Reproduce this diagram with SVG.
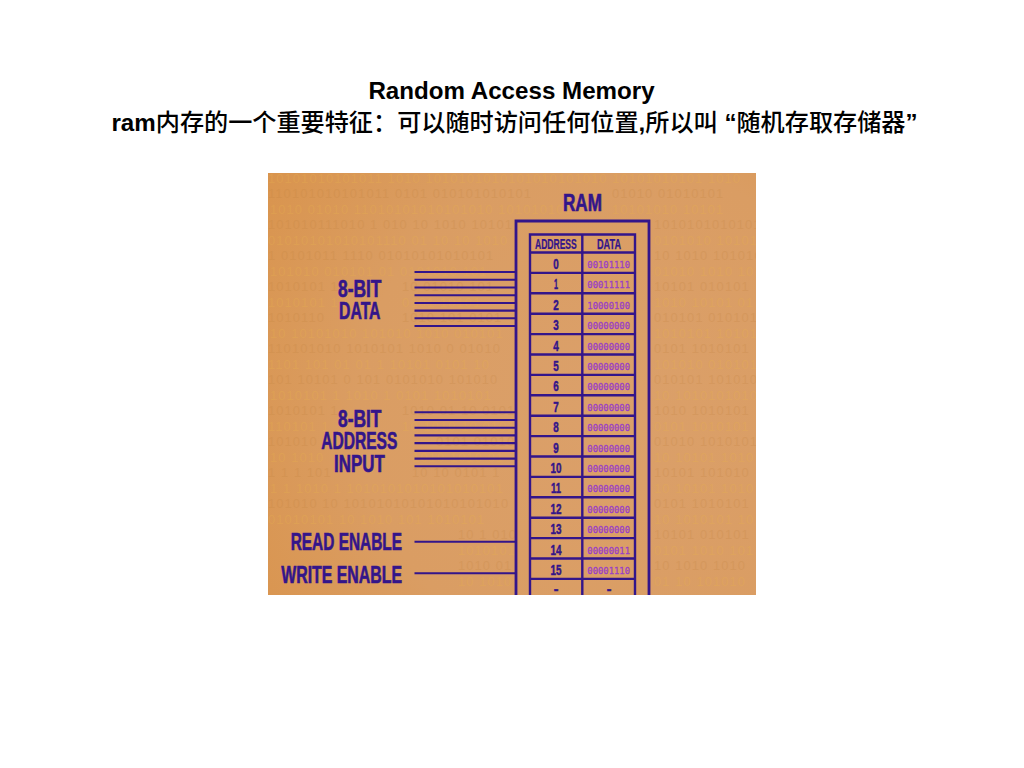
<svg xmlns="http://www.w3.org/2000/svg" width="1024" height="768" viewBox="0 0 1024 768">
<style>
.t{font-family:"Liberation Sans","Noto Sans CJK SC",sans-serif;font-weight:700;fill:#000;font-size:24.15px}
.z{font-family:"Noto Sans CJK SC","Liberation Sans",sans-serif;font-weight:500}
.b{font-family:"Liberation Sans",sans-serif;font-size:13px;letter-spacing:1.05px;fill:#e8b050;opacity:.3}
.b2{fill:#c2833f;opacity:.22}
.l{font-family:"Liberation Sans",sans-serif;font-weight:700;fill:#33158a;stroke:#33158a;stroke-width:.6}
.m{font-size:23px}
.h{font-size:14px;stroke-width:.25}
.n{font-size:14px;text-anchor:middle;stroke-width:.45}
.d{font-family:"DejaVu Sans Mono",monospace;font-size:8.9px;fill:#9a40c6;stroke:#9a40c6;stroke-width:.28}
.w{stroke:#33158a;stroke-width:2.1;fill:none}
.r{stroke:#33158a;stroke-width:2.4;fill:none}
.f{stroke:#33158a;stroke-width:2.8;fill:none}
</style>
<defs>
<radialGradient id="bg" gradientUnits="userSpaceOnUse" cx="610" cy="410" r="420">
<stop offset="0" stop-color="#dba06a"/>
<stop offset=".6" stop-color="#da9d63"/>
<stop offset="1" stop-color="#d9944d"/>
</radialGradient>
<clipPath id="c"><rect x="268" y="173" width="488" height="422"/></clipPath>
</defs>
<g id="title">
<text class="t" x="511.5" y="99" text-anchor="middle">Random Access Memory</text>
<text class="t" x="514.5" y="131" text-anchor="middle">ram<tspan class="z">内存的一个重要特征：可以随时访问任何位置</tspan>,<tspan class="z">所以叫</tspan> “<tspan class="z">随机存取存储器</tspan>”</text>
</g>
<g clip-path="url(#c)">
<rect x="268" y="173" width="488" height="422" fill="url(#bg)"/>
<g id="binary-texture">
<text class="b" x="268" y="183">10101010101011 1010 1010101010101010101010 10101010101 1010</text>
<text class="b b2" x="268" y="198">110101010101011 0101 010101010101</text><text class="b b2" x="612" y="198">01010 01010101</text>
<text class="b" x="270" y="214">1010 01010 11010101010101010 1010101010</text><text class="b" x="612" y="214">10101010 10101</text>
<text class="b b2" x="268" y="229">101010111010 1 010 10 1010 10101</text><text class="b b2" x="654" y="229">1010101010101</text>
<text class="b" x="268" y="245">01010101010101110 01 10 10 1010</text><text class="b" x="654" y="245">0101010 10101</text>
<text class="b b2" x="268" y="260">1 0101011 1110 01010101010101</text><text class="b b2" x="654" y="260">10 1010 101010</text>
<text class="b" x="270" y="276">101010 010101 01 0101010 101</text><text class="b" x="654" y="276">01010 1010 101</text>
<text class="b b2" x="268" y="291">1010101 1</text><text class="b b2" x="402" y="291">10 01010 101</text><text class="b b2" x="654" y="291">10101 010101</text>
<text class="b" x="268" y="307">1010101 1</text><text class="b" x="402" y="307">0101 10101</text><text class="b" x="654" y="307">1010 10101 01</text>
<text class="b b2" x="268" y="322">1010110</text><text class="b b2" x="402" y="322">1010 101 0101</text><text class="b b2" x="654" y="322">010101 010101</text>
<text class="b" x="270" y="338">10 10101010 101010 1010 010101</text><text class="b" x="654" y="338">1010101 10101</text>
<text class="b b2" x="268" y="353">110101010 1010101 1010 0 01010</text><text class="b b2" x="654" y="353">0101 1010101</text>
<text class="b" x="268" y="369">1101 101 01 01 1 10101 0101 10</text><text class="b" x="654" y="369">101010 010101</text>
<text class="b b2" x="268" y="384">101 10101 0 101 0101010 101010</text><text class="b b2" x="654" y="384">010101 101010</text>
<text class="b" x="270" y="400">1010101 1 1010 1 0101 1010101</text><text class="b" x="654" y="400">10 1010101010</text>
<text class="b b2" x="268" y="415">1010101 1</text><text class="b b2" x="402" y="415">1010 01 10 0101</text><text class="b b2" x="654" y="415">1010 1010101</text>
<text class="b" x="268" y="431">110101 1</text><text class="b" x="402" y="431">10 1010 10 0101</text><text class="b" x="654" y="431">0101 1010101</text>
<text class="b b2" x="268" y="446">101010</text><text class="b b2" x="436" y="446">0101 01010</text><text class="b b2" x="654" y="446">01010 1010101</text>
<text class="b" x="270" y="462">10 1010</text><text class="b" x="412" y="462">1010 1010 01</text><text class="b" x="654" y="462">10 10101 1010</text>
<text class="b b2" x="268" y="477">1 1 1 101</text><text class="b b2" x="412" y="477">10 10 0101 1</text><text class="b b2" x="654" y="477">10101 101010</text>
<text class="b" x="270" y="493">1 1 1010 1 1010101010101010101</text><text class="b" x="654" y="493">10 10101 1010</text>
<text class="b b2" x="268" y="508">101010 10 10101010101010101010</text><text class="b b2" x="654" y="508">0101 1010101</text>
<text class="b" x="268" y="524">01010101 10 1010 101 1010101</text><text class="b" x="654" y="524">10 1010101 10</text>
<text class="b b2" x="458" y="539">10 1 010</text><text class="b b2" x="654" y="539">10101 010101</text>
<text class="b" x="458" y="555">1010101</text><text class="b" x="654" y="555">0101 1010 101</text>
<text class="b b2" x="458" y="570">1010 01</text><text class="b b2" x="654" y="570">10 1010 1010</text>
<text class="b" x="458" y="586">10 1010</text><text class="b" x="654" y="586">01 10 101010</text>
</g>
<g id="connectors">
<path class="w" d="M414.5 272H516M414.5 279.7H516M414.5 287.5H516M414.5 295.2H516M414.5 303H516M414.5 310.6H516M414.5 318.3H516M414.5 326H516"/>
<path class="w" d="M414.5 412.3H516M414.5 420H516M414.5 427.7H516M414.5 435.4H516M414.5 443.1H516M414.5 450.9H516M414.5 458.6H516M414.5 466.3H516"/>
<path class="w" d="M414.5 541.7H516M414.5 573.3H516"/>
</g>
<g id="ram-label"><text class="l m" x="563" y="210.5" textLength="39" lengthAdjust="spacingAndGlyphs">RAM</text></g>
<g id="data-label">
<text class="l m" x="338" y="297" textLength="43.5" lengthAdjust="spacingAndGlyphs">8-BIT</text>
<text class="l m" x="339" y="318.7" textLength="41.5" lengthAdjust="spacingAndGlyphs">DATA</text>
</g>
<g id="address-label">
<text class="l m" x="338" y="427.3" textLength="43.5" lengthAdjust="spacingAndGlyphs">8-BIT</text>
<text class="l m" x="321.3" y="449.3" textLength="76" lengthAdjust="spacingAndGlyphs">ADDRESS</text>
<text class="l m" x="334" y="471.7" textLength="50.7" lengthAdjust="spacingAndGlyphs">INPUT</text>
</g>
<g id="read-enable"><text class="l m" x="290.7" y="550" textLength="111.3" lengthAdjust="spacingAndGlyphs">READ ENABLE</text></g>
<g id="write-enable"><text class="l m" x="281.3" y="583.3" textLength="120.7" lengthAdjust="spacingAndGlyphs">WRITE ENABLE</text></g>
<g id="ram">
<path class="f" d="M516 600V221H649V600"/>
<path class="r" d="M530 600V234.5H635V600M582.3 234.5V600M530 252.5H635M530 272.9H635M530 293.3H635M530 313.7H635M530 334.1H635M530 354.5H635M530 374.9H635M530 395.3H635M530 415.7H635M530 436.1H635M530 456.5H635M530 476.9H635M530 497.3H635M530 517.7H635M530 538.1H635M530 558.5H635M530 578.9H635"/>
<text class="l h" transform="translate(535 248.5) scale(.61 1)">ADDRESS</text>
<text class="l h" x="597" y="248.5" textLength="24" lengthAdjust="spacingAndGlyphs">DATA</text>
<g id="row-0"><text class="l n" x="556" y="269" textLength="5.5" lengthAdjust="spacingAndGlyphs">0</text><text class="d" x="587.3" y="268">00101110</text></g>
<g id="row-1"><text class="l n" x="556" y="289.4" textLength="4" lengthAdjust="spacingAndGlyphs">1</text><text class="d" x="587.3" y="288.4">00011111</text></g>
<g id="row-2"><text class="l n" x="556" y="309.8" textLength="5.5" lengthAdjust="spacingAndGlyphs">2</text><text class="d" x="587.3" y="308.8">10000100</text></g>
<g id="row-3"><text class="l n" x="556" y="330.2" textLength="5.5" lengthAdjust="spacingAndGlyphs">3</text><text class="d" x="587.3" y="329.2">00000000</text></g>
<g id="row-4"><text class="l n" x="556" y="350.6" textLength="5.5" lengthAdjust="spacingAndGlyphs">4</text><text class="d" x="587.3" y="349.6">00000000</text></g>
<g id="row-5"><text class="l n" x="556" y="371" textLength="5.5" lengthAdjust="spacingAndGlyphs">5</text><text class="d" x="587.3" y="370">00000000</text></g>
<g id="row-6"><text class="l n" x="556" y="391.4" textLength="5.5" lengthAdjust="spacingAndGlyphs">6</text><text class="d" x="587.3" y="390.4">00000000</text></g>
<g id="row-7"><text class="l n" x="556" y="411.8" textLength="5.5" lengthAdjust="spacingAndGlyphs">7</text><text class="d" x="587.3" y="410.8">00000000</text></g>
<g id="row-8"><text class="l n" x="556" y="432.2" textLength="5.5" lengthAdjust="spacingAndGlyphs">8</text><text class="d" x="587.3" y="431.2">00000000</text></g>
<g id="row-9"><text class="l n" x="556" y="452.6" textLength="5.5" lengthAdjust="spacingAndGlyphs">9</text><text class="d" x="587.3" y="451.6">00000000</text></g>
<g id="row-10"><text class="l n" x="556" y="473" textLength="11" lengthAdjust="spacingAndGlyphs">10</text><text class="d" x="587.3" y="472">00000000</text></g>
<g id="row-11"><text class="l n" x="556" y="493.4" textLength="10" lengthAdjust="spacingAndGlyphs">11</text><text class="d" x="587.3" y="492.4">00000000</text></g>
<g id="row-12"><text class="l n" x="556" y="513.8" textLength="11" lengthAdjust="spacingAndGlyphs">12</text><text class="d" x="587.3" y="512.8">00000000</text></g>
<g id="row-13"><text class="l n" x="556" y="534.2" textLength="11" lengthAdjust="spacingAndGlyphs">13</text><text class="d" x="587.3" y="533.2">00000000</text></g>
<g id="row-14"><text class="l n" x="556" y="554.6" textLength="11" lengthAdjust="spacingAndGlyphs">14</text><text class="d" x="587.3" y="553.6">00000011</text></g>
<g id="row-15"><text class="l n" x="556" y="575" textLength="11" lengthAdjust="spacingAndGlyphs">15</text><text class="d" x="587.3" y="574">00001110</text></g>
<g id="row-more"><text class="l n" x="556" y="594">-</text><text class="l n" x="609" y="594">-</text></g>
</g>
</g>
</svg>
